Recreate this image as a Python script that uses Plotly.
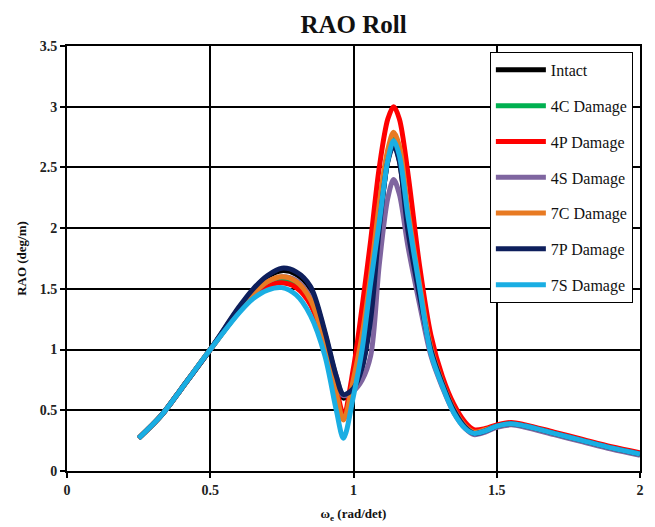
import plotly.graph_objects as go

# Encounter frequency (rad/s)
omega = [0.25, 0.33, 0.40, 0.50, 0.60, 0.65, 0.70, 0.75, 0.80, 0.85, 0.90, 0.94, 0.965,
         1.00, 1.03, 1.06, 1.09, 1.12, 1.14, 1.16, 1.19, 1.23, 1.27, 1.31, 1.35, 1.39,
         1.42, 1.46, 1.50, 1.55, 1.60, 1.70, 1.80, 1.90, 2.00]

rao_intact = [0.27, 0.46, 0.68, 1.00, 1.34, 1.49, 1.60, 1.65, 1.62, 1.50, 1.13, 0.76, 0.60,
              0.68, 0.86, 1.28, 2.00, 2.56, 2.70, 2.56, 1.98, 1.45, 1.00, 0.72, 0.50, 0.36,
              0.31, 0.33, 0.37, 0.39, 0.37, 0.31, 0.25, 0.19, 0.14]
rao_4c = [0.27, 0.46, 0.68, 1.00, 1.31, 1.44, 1.53, 1.57, 1.53, 1.38, 1.03, 0.64, 0.44,
          0.78, 1.15, 1.65, 2.20, 2.62, 2.75, 2.64, 2.10, 1.52, 1.00, 0.72, 0.50, 0.36,
          0.31, 0.33, 0.37, 0.39, 0.37, 0.31, 0.25, 0.19, 0.14]
rao_4p = [0.27, 0.46, 0.68, 1.00, 1.31, 1.43, 1.52, 1.55, 1.51, 1.37, 1.05, 0.68, 0.47,
          0.85, 1.35, 1.90, 2.50, 2.90, 3.00, 2.90, 2.45, 1.70, 1.12, 0.78, 0.55, 0.40,
          0.34, 0.35, 0.38, 0.40, 0.38, 0.32, 0.26, 0.20, 0.15]
rao_4s = [0.27, 0.46, 0.68, 1.00, 1.32, 1.46, 1.56, 1.60, 1.57, 1.43, 1.10, 0.78, 0.62,
          0.66, 0.75, 0.95, 1.70, 2.25, 2.40, 2.28, 1.85, 1.38, 0.95, 0.69, 0.48, 0.35,
          0.30, 0.32, 0.36, 0.38, 0.36, 0.30, 0.24, 0.18, 0.13]
rao_7c = [0.27, 0.46, 0.68, 1.00, 1.32, 1.46, 1.56, 1.60, 1.56, 1.41, 1.05, 0.64, 0.42,
          0.76, 1.12, 1.62, 2.20, 2.65, 2.79, 2.68, 2.15, 1.55, 1.02, 0.73, 0.51, 0.37,
          0.32, 0.34, 0.37, 0.39, 0.37, 0.31, 0.25, 0.19, 0.14]
rao_7p = [0.27, 0.46, 0.68, 1.00, 1.35, 1.50, 1.61, 1.67, 1.64, 1.52, 1.15, 0.78, 0.63,
          0.68, 0.85, 1.25, 2.00, 2.55, 2.68, 2.55, 1.98, 1.45, 1.00, 0.72, 0.50, 0.36,
          0.31, 0.33, 0.37, 0.39, 0.37, 0.31, 0.25, 0.19, 0.14]
rao_7s = [0.27, 0.46, 0.68, 1.00, 1.30, 1.42, 1.49, 1.51, 1.45, 1.28, 0.95, 0.50, 0.27,
          0.62, 1.00, 1.55, 2.05, 2.56, 2.72, 2.60, 2.10, 1.52, 0.97, 0.70, 0.48, 0.35,
          0.31, 0.33, 0.37, 0.39, 0.37, 0.31, 0.25, 0.19, 0.14]

series_names = ["Intact", "4C Damage", "4P Damage", "4S Damage",
                "7C Damage", "7P Damage", "7S Damage"]
series_values = [rao_intact, rao_4c, rao_4p, rao_4s, rao_7c, rao_7p, rao_7s]
series_colors = ["#000000", "#00B050", "#FF0000", "#7F65A0",
                 "#E87A22", "#0E1F5C", "#1AAEE3"]

x_ticks = [0, 0.5, 1, 1.5, 2]
x_tick_labels = ["0", "0.5", "1", "1.5", "2"]
y_ticks = [0, 0.5, 1, 1.5, 2, 2.5, 3, 3.5]
y_tick_labels = ["0", "0.5", "1", "1.5", "2", "2.5", "3", "3.5"]

FONT = "Liberation Serif, Times New Roman, serif"

fig = go.Figure()
for i, (name, vals, col) in enumerate(zip(series_names, series_values, series_colors)):
    fig.add_trace(go.Scatter(
        x=omega, y=vals, name=name, mode="lines",
        line=dict(color=col, width=5, shape="spline", smoothing=0.9),
        legendgroup=name,
    ))

fig.update_layout(
    width=647, height=519,
    margin=dict(l=59, r=15, t=38, b=56),
    paper_bgcolor="white", plot_bgcolor="white",
    font=dict(family=FONT, color="#111111"),
    title=dict(text="<b>RAO Roll</b>", x=0.5, xref="paper", xanchor="center",
               y=0.968, yanchor="middle",
               font=dict(family=FONT, size=25, color="#111111")),
    showlegend=True,
    legend=dict(x=0.738, y=0.986, xanchor="left", yanchor="top",
                bgcolor="white", bordercolor="#000000", borderwidth=1,
                font=dict(family=FONT, size=16, color="#111111"),
                tracegroupgap=12, itemwidth=50),
    xaxis=dict(range=[0, 2], tickvals=x_ticks, ticktext=["<b>%s</b>" % t for t in x_tick_labels],
               showgrid=True, gridcolor="#000000", gridwidth=2,
               showline=True, linecolor="#000000", linewidth=2, mirror=True,
               ticks="outside", ticklen=5, tickwidth=2, tickcolor="#000000",
               tickfont=dict(family=FONT, size=14, color="#222222"),
               zeroline=False, automargin=False,
               title=dict(text="<b>ω<sub>e</sub> (rad/det)</b>", standoff=12,
                          font=dict(family=FONT, size=13, color="#111111"))),
    yaxis=dict(range=[0, 3.5], tickvals=y_ticks, ticktext=["<b>%s</b>" % t for t in y_tick_labels],
               showgrid=True, gridcolor="#000000", gridwidth=2,
               showline=True, linecolor="#000000", linewidth=2, mirror=True,
               ticks="outside", ticklen=5, tickwidth=2, tickcolor="#000000",
               tickfont=dict(family=FONT, size=14, color="#222222"),
               zeroline=False, automargin=False,
               title=dict(text="<b>RAO (deg/m)</b>", standoff=10,
                          font=dict(family=FONT, size=13, color="#111111"))),
)

fig.write_html("out.html")
